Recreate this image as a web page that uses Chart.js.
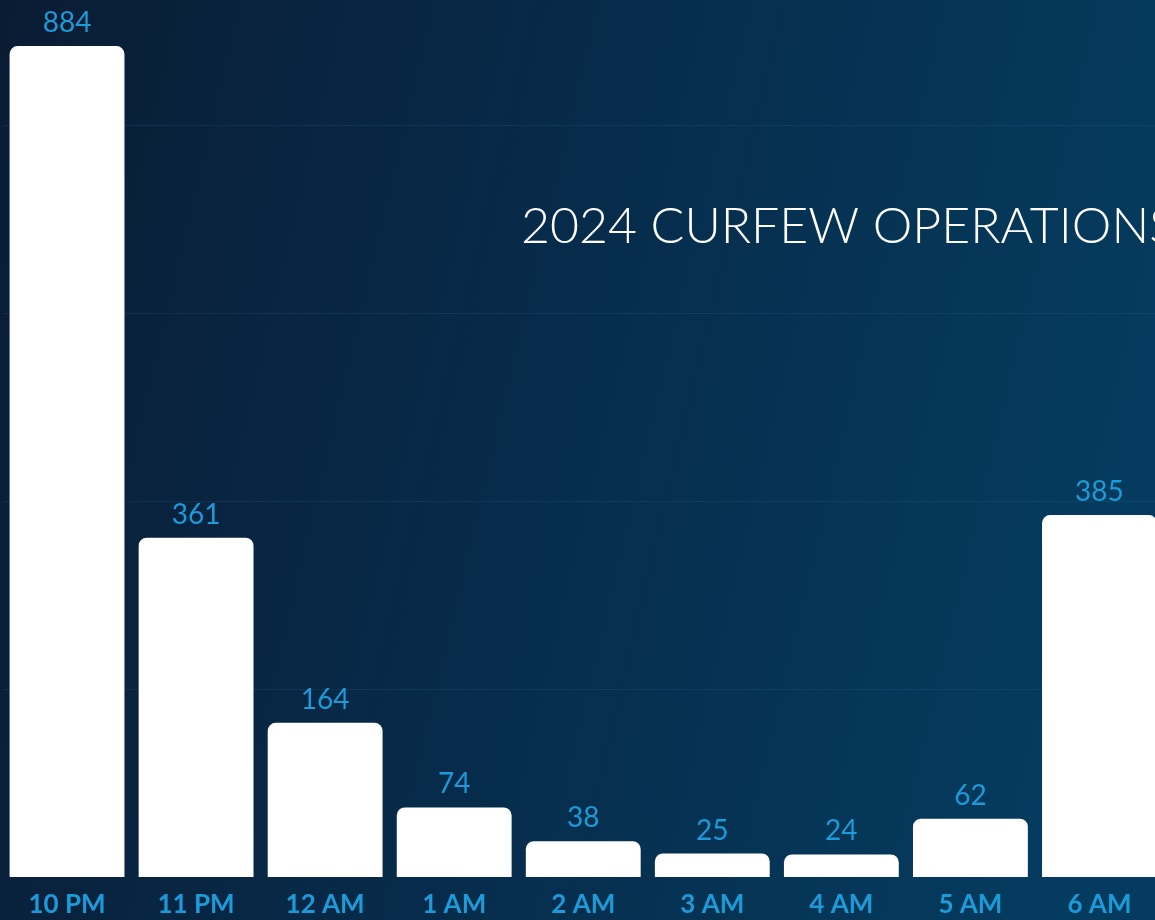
<!DOCTYPE html>
<html>
<head>
<meta charset="utf-8">
<script src="https://cdn.jsdelivr.net/npm/chart.js@4.4.1/dist/chart.umd.min.js"></script>
<style>
  html, body { margin: 0; padding: 0; overflow: hidden; background: #0a2540; }
  #wrap { position: absolute; left: 0; top: 0; width: 1164px; height: 920px; }
</style>
</head>
<body>
<div id="wrap"><canvas id="curfewChart"></canvas></div>
<script>
  // data
  const hours = ['10 PM', '11 PM', '12 AM', '1 AM', '2 AM', '3 AM', '4 AM', '5 AM', '6 AM'];
  const operations = [884, 361, 164, 74, 38, 25, 24, 62, 385];
  const gridSteps = [200, 400, 600, 800];

  const titleText = '2024 CURFEW OPERATIONS';
  const blue = '#1d9ad8';

  const background = {
    id: 'background',
    beforeDraw(chart) {
      const c = chart.ctx;
      const g = c.createLinearGradient(0, 0, chart.width, chart.height * 0.3);
      g.addColorStop(0, '#0a1c34');
      g.addColorStop(0.5, '#072b4a');
      g.addColorStop(1, '#053b5e');
      c.save();
      c.fillStyle = g;
      c.fillRect(0, 0, chart.width, chart.height);
      c.restore();
    }
  };

  const extras = {
    id: 'extras',
    afterDatasetsDraw(chart) {
      const c = chart.ctx;
      c.save();
      // title
      c.fillStyle = '#ffffff';
      c.font = '300 50px Lato';
      c.textAlign = 'left';
      c.textBaseline = 'alphabetic';
      c.fillText(titleText, 521, 243);
      // value labels
      c.fillStyle = blue;
      c.font = '400 28px Lato';
      c.textAlign = 'center';
      c.textBaseline = 'middle';
      chart.getDatasetMeta(0).data.forEach((bar, i) => {
        c.fillText(operations[i], bar.x, bar.y - 23);
      });
      c.restore();
    }
  };

  const ctx = document.getElementById('curfewChart').getContext('2d');
  const curfewChart = new Chart(ctx, {
    type: 'bar',
    data: {
      labels: hours,
      datasets: [{
        label: 'Curfew operations',
        data: operations,
        backgroundColor: '#ffffff',
        borderRadius: { topLeft: 8, topRight: 8, bottomLeft: 0, bottomRight: 0 },
        borderSkipped: 'bottom',
        barPercentage: 0.89,
        categoryPercentage: 1
      }]
    },
    options: {
      responsive: true,
      maintainAspectRatio: false,
      animation: false,
      layout: { padding: { left: 2.5, right: 0, top: 0, bottom: 0 } },
      plugins: {
        legend: { display: false },
        tooltip: { enabled: false }
      },
      scales: {
        x: {
          afterFit(axis) { axis.height = 43; },
          grid: { display: false, drawTicks: false },
          border: { display: false },
          ticks: {
            color: blue,
            padding: 12,
            maxRotation: 0,
            font: { family: 'Lato', size: 26, weight: 'bold', lineHeight: 1.2 }
          }
        },
        y: {
          min: 0,
          max: 933,
          afterFit(axis) { axis.width = 0; },
          afterBuildTicks(axis) { axis.ticks = gridSteps.map(v => ({ value: v })); },
          ticks: { display: false },
          border: { display: false },
          grid: { color: 'rgba(80, 150, 200, 0.12)', lineWidth: 1, drawTicks: false }
        }
      }
    },
    plugins: [background, extras]
  });
</script>
</body>
</html>
